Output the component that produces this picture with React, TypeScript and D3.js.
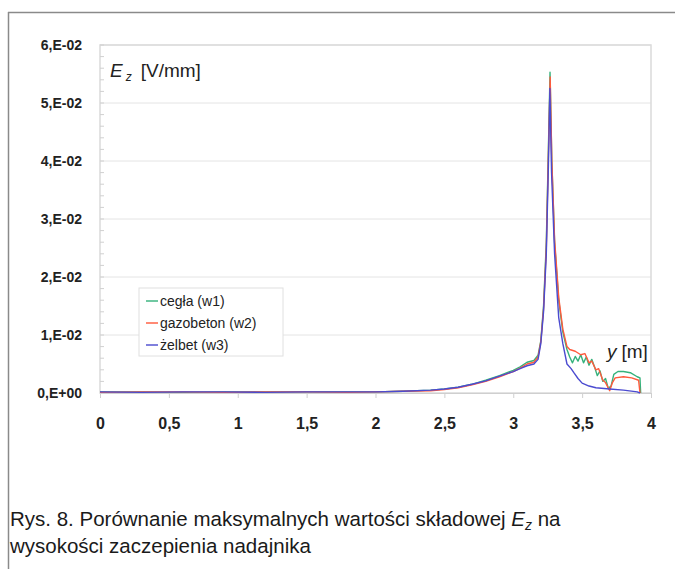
import React, { useRef, useEffect } from "react";
import { select, scaleLinear, axisBottom, axisLeft, line, range } from "d3";

// wysokość y [m] i składowa Ez [V/mm]
const xTicks = [0, 0.5, 1, 1.5, 2, 2.5, 3, 3.5, 4];
const xTickLabels = ["0", "0,5", "1", "1,5", "2", "2,5", "3", "3,5", "4"];
const yTicks = [0, 0.01, 0.02, 0.03, 0.04, 0.05, 0.06];
const yTickLabels = ["0,E+00", "1,E-02", "2,E-02", "3,E-02", "4,E-02", "5,E-02", "6,E-02"];

const ceglaY = [0, 0.3, 0.6, 0.9, 1.2, 1.5, 1.8, 2.0, 2.2, 2.4, 2.5, 2.6, 2.7, 2.8, 2.9, 3.0, 3.05, 3.1, 3.15, 3.18, 3.2, 3.22, 3.24, 3.255, 3.267, 3.28, 3.3, 3.33, 3.36, 3.39, 3.41, 3.43, 3.45, 3.47, 3.49, 3.51, 3.53, 3.55, 3.57, 3.59, 3.61, 3.63, 3.65, 3.67, 3.69, 3.71, 3.73, 3.76, 3.8, 3.85, 3.9, 3.92, 3.925];
const ceglaEz = [0.0002, 0.0002, 0.0001, 0.0002, 0.0002, 0.0002, 0.0002, 0.0002, 0.0003, 0.0005, 0.0007, 0.001, 0.0015, 0.0022, 0.003, 0.0039, 0.0045, 0.0053, 0.0056, 0.0065, 0.009, 0.015, 0.026, 0.042, 0.0553, 0.04, 0.026, 0.016, 0.0105, 0.0075, 0.0062, 0.0052, 0.0063, 0.0055, 0.0066, 0.0052, 0.0062, 0.0048, 0.0058, 0.0045, 0.003, 0.0038, 0.002, 0.0025, 0.0008, 0.0012, 0.0032, 0.0037, 0.0037, 0.0035, 0.0028, 0.0026, 0];

const gazoY = [0, 0.3, 0.6, 0.9, 1.2, 1.5, 1.8, 2.0, 2.2, 2.4, 2.5, 2.6, 2.7, 2.8, 2.9, 3.0, 3.05, 3.1, 3.15, 3.18, 3.2, 3.22, 3.24, 3.255, 3.268, 3.28, 3.3, 3.33, 3.36, 3.39, 3.41, 3.45, 3.49, 3.52, 3.55, 3.57, 3.6, 3.62, 3.65, 3.67, 3.7, 3.72, 3.74, 3.8, 3.86, 3.91, 3.92];
const gazoEz = [0.0001, 0.0002, 0.0002, 0.0001, 0.0002, 0.0002, 0.0001, 0.0002, 0.0003, 0.0004, 0.0006, 0.0009, 0.0014, 0.002, 0.0028, 0.0037, 0.0043, 0.005, 0.0053, 0.0062, 0.0088, 0.0145, 0.025, 0.041, 0.0545, 0.04, 0.0265, 0.0165, 0.011, 0.008, 0.0075, 0.0072, 0.0066, 0.0068, 0.0052, 0.0055, 0.004, 0.0042, 0.0022, 0.0018, 0.0004, 0.0018, 0.0026, 0.0028, 0.0026, 0.0022, 0];

const zelbetY = [0, 0.3, 0.6, 0.9, 1.2, 1.5, 1.8, 2.0, 2.2, 2.4, 2.5, 2.6, 2.7, 2.8, 2.9, 3.0, 3.05, 3.1, 3.15, 3.18, 3.2, 3.22, 3.24, 3.255, 3.266, 3.278, 3.3, 3.33, 3.36, 3.39, 3.42, 3.44, 3.47, 3.5, 3.55, 3.6, 3.7, 3.8, 3.9, 3.92];
const zelbetEz = [0.0002, 0.0001, 0.0002, 0.0002, 0.0001, 0.0002, 0.0002, 0.0002, 0.0003, 0.0005, 0.0007, 0.001, 0.0015, 0.0021, 0.0029, 0.0037, 0.0042, 0.0047, 0.005, 0.0058, 0.0085, 0.014, 0.024, 0.039, 0.0525, 0.038, 0.024, 0.013, 0.0085, 0.005, 0.0042, 0.0035, 0.0025, 0.0017, 0.0012, 0.0009, 0.0007, 0.0005, 0.0002, 0];

const seriesNames = ["cegła (w1)", "gazobeton (w2)", "żelbet (w3)"];
const seriesColors = ["#35b27c", "#ff5a3c", "#4b4bd0"];

const W = 675, H = 569;
const margin = { left: 100, right: 24, top: 45, bottom: 176 };
const FONT = "'Liberation Sans', Arial, sans-serif";

function App() {
  const svgRef = useRef<SVGSVGElement>(null);

  useEffect(() => {
    const svg = select(svgRef.current);
    svg.selectAll("*").remove();

    const xScale = scaleLinear().domain([0, 4]).range([margin.left, W - margin.right]);
    const yScale = scaleLinear().domain([0, 0.06]).range([H - margin.bottom, margin.top]);

    // ramka strony
    svg.append("line").attr("x1", 8).attr("x2", W).attr("y1", 12.5).attr("y2", 12.5)
      .attr("stroke", "#8a8a8a").attr("stroke-width", 1.5);
    svg.append("line").attr("x1", 8.5).attr("x2", 8.5).attr("y1", 12).attr("y2", H)
      .attr("stroke", "#8a8a8a").attr("stroke-width", 1.5);

    // siatka
    svg.append("g")
      .selectAll("line")
      .data(yTicks.slice(1))
      .join("line")
      .attr("x1", xScale(0)).attr("x2", xScale(4))
      .attr("y1", (d) => yScale(d)).attr("y2", (d) => yScale(d))
      .attr("stroke", "#e4e4e4");

    svg.append("rect")
      .attr("x", xScale(0)).attr("y", yScale(0.06))
      .attr("width", xScale(4) - xScale(0)).attr("height", yScale(0) - yScale(0.06))
      .attr("fill", "none").attr("stroke", "#dadada").attr("stroke-width", 1.5);

    // podziałka pomocnicza na osi y
    svg.append("g")
      .selectAll("line")
      .data(range(0, 0.06001, 0.002))
      .join("line")
      .attr("x1", xScale(0)).attr("x2", xScale(0) + 4)
      .attr("y1", (d) => yScale(d)).attr("y2", (d) => yScale(d))
      .attr("stroke", "#d0d0d0");

    const xAxis = axisBottom(xScale)
      .tickValues(xTicks)
      .tickFormat((d, i) => xTickLabels[i])
      .tickSizeInner(5)
      .tickSizeOuter(0)
      .tickPadding(20);
    const gx = svg.append("g").attr("transform", `translate(0,${yScale(0)})`).call(xAxis);
    gx.select(".domain").attr("stroke", "#cfcfcf");
    gx.selectAll(".tick line").attr("stroke", "#cfcfcf");
    gx.selectAll(".tick text")
      .attr("fill", "#222")
      .style("font-family", FONT)
      .style("font-size", "16px")
      .style("font-weight", "bold");

    const yAxis = axisLeft(yScale)
      .tickValues(yTicks)
      .tickFormat((d, i) => yTickLabels[i])
      .tickSize(0)
      .tickPadding(18);
    const gy = svg.append("g").attr("transform", `translate(${xScale(0)},0)`).call(yAxis);
    gy.select(".domain").remove();
    gy.selectAll(".tick text")
      .attr("fill", "#222")
      .style("font-family", FONT)
      .style("font-size", "14px")
      .style("font-weight", "bold");

    // krzywe
    const series = [
      { xs: ceglaY, vs: ceglaEz },
      { xs: gazoY, vs: gazoEz },
      { xs: zelbetY, vs: zelbetEz },
    ];
    const lineGen = line<[number, number]>()
      .x((d) => xScale(d[0]))
      .y((d) => yScale(d[1]));
    series.forEach((s, i) => {
      svg.append("path")
        .datum(s.xs.map((x, j) => [x, s.vs[j]] as [number, number]))
        .attr("d", lineGen)
        .attr("fill", "none")
        .attr("stroke", seriesColors[i])
        .attr("stroke-width", 1.4)
        .attr("stroke-linejoin", "round");
    });

    // legenda
    const lg = svg.append("g").attr("transform", "translate(139,288)");
    lg.append("rect").attr("width", 144).attr("height", 68)
      .attr("fill", "white").attr("stroke", "#e0e0e0");
    seriesNames.forEach((name, i) => {
      const yy = 13 + i * 22;
      lg.append("line").attr("x1", 7).attr("x2", 19).attr("y1", yy).attr("y2", yy)
        .attr("stroke", seriesColors[i]).attr("stroke-width", 2).attr("opacity", 0.7);
      lg.append("text").attr("x", 21).attr("y", yy).attr("dy", "0.35em")
        .attr("fill", "#222")
        .style("font-family", FONT)
        .style("font-size", "14px")
        .text(name);
    });

    // opisy osi
    const ez = svg.append("text").attr("x", 110).attr("y", 77)
      .attr("fill", "#222")
      .style("font-family", FONT)
      .style("font-size", "19px");
    ez.append("tspan").style("font-style", "italic").text("E");
    ez.append("tspan").style("font-style", "italic").style("font-size", "12px").attr("dx", 3).attr("dy", 4).text("z");
    ez.append("tspan").attr("dx", 9).attr("dy", -4).text("[V/mm]");

    const yl = svg.append("text").attr("x", 607).attr("y", 358)
      .attr("fill", "#222")
      .style("font-family", FONT)
      .style("font-size", "19px");
    yl.append("tspan").style("font-style", "italic").text("y");
    yl.append("tspan").attr("dx", 5).text("[m]");

    // podpis rysunku
    const cap = svg.append("g")
      .style("font-family", FONT)
      .style("font-size", "20.5px")
      .attr("fill", "#1a1a1a");
    const t1 = cap.append("text").attr("x", 10).attr("y", 526);
    t1.append("tspan").text("Rys. 8. Porównanie maksymalnych wartości składowej ");
    t1.append("tspan").style("font-style", "italic").text("E");
    t1.append("tspan").style("font-style", "italic").style("font-size", "14px").attr("dy", 4).text("z");
    t1.append("tspan").attr("dy", -4).text(" na");
    cap.append("text").attr("x", 10).attr("y", 553).text("wysokości zaczepienia nadajnika");
  }, []);

  return (
    <div style={{ position: "absolute", left: 0, top: 0 }}>
      <svg ref={svgRef} width={W} height={H} style={{ display: "block", background: "white" }} />
    </div>
  );
}

export default App;
